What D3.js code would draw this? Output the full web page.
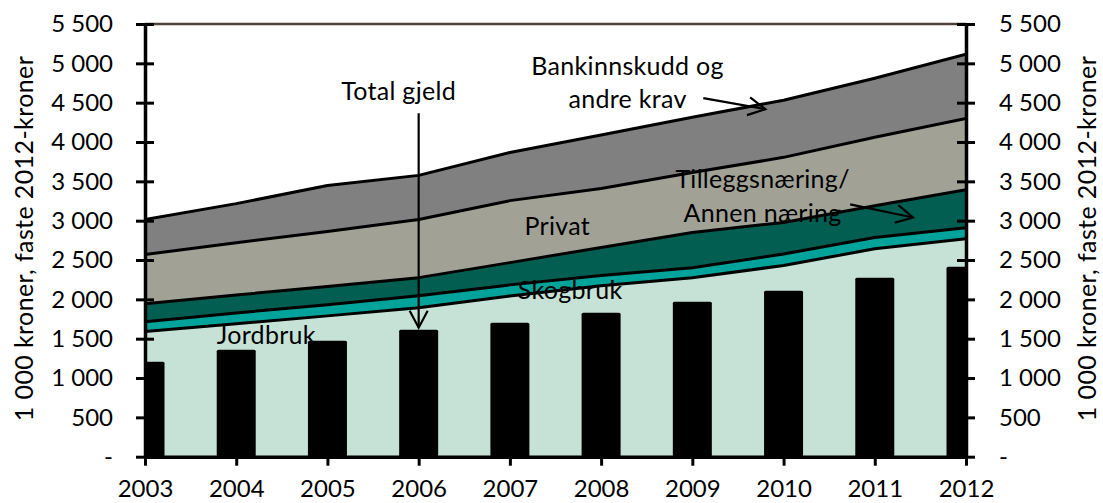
<!DOCTYPE html>
<html>
<head>
<meta charset="utf-8">
<script src="https://cdn.jsdelivr.net/npm/d3@7/dist/d3.min.js"></script>
<style>
    body { margin: 0; background: #fff; }
    svg { display: block; font-family: Lato, "Open Sans", sans-serif; }
</style>
</head>
<body>
<svg id="chart"></svg>
<script>
// Data (1 000 kroner, faste 2012-kroner)
const years = [2003, 2004, 2005, 2006, 2007, 2008, 2009, 2010, 2011, 2012];
const jordbruk   = [1590, 1690, 1790, 1894, 2044, 2173, 2276, 2430, 2643, 2771];
const skogbruk   = [126, 137, 142, 153, 140, 129, 127, 146, 143, 140];
const tillegg    = [229, 229, 230, 229, 283, 357, 447, 402, 405, 484];
const privat     = [625, 664, 700, 739, 788, 749, 762, 827, 869, 905];
const bankinnskudd = [445, 497, 584, 561, 612, 682, 703, 726, 751, 817];
const totalGjeld = [1206, 1359, 1474, 1614, 1703, 1830, 1970, 2110, 2276, 2416];
const yTicks = [0, 500, 1000, 1500, 2000, 2500, 3000, 3500, 4000, 4500, 5000, 5500];

const keys = ["jordbruk", "skogbruk", "tillegg", "privat", "bank"];
const colors = {
    jordbruk: "#c6e2d7",
    skogbruk: "#00a399",
    tillegg: "#015e51",
    privat: "#a1a295",
    bank: "#808080"
};

const width = 1103;
const height = 503;
const margin = {top: 24, right: 137, bottom: 47, left: 145};

const rows = years.map((yr, i) => ({
    year: yr,
    jordbruk: jordbruk[i],
    skogbruk: skogbruk[i],
    tillegg: tillegg[i],
    privat: privat[i],
    bank: bankinnskudd[i]
}));

const x = d3.scaleLinear()
    .domain([2003, 2012])
    .range([margin.left, width - margin.right]);

const y = d3.scaleLinear()
    .domain([0, 5500])
    .range([height - margin.bottom + 0.7, margin.top]);

const svg = d3.select("#chart")
    .attr("width", width)
    .attr("height", height);

svg.append("defs").append("clipPath")
    .attr("id", "plot-clip")
    .append("rect")
    .attr("x", margin.left)
    .attr("y", margin.top)
    .attr("width", x(2012) - x(2003))
    .attr("height", y(0) - margin.top);

const plot = svg.append("g").attr("clip-path", "url(#plot-clip)");

// Stacked areas
const series = d3.stack().keys(keys)(rows);

const area = d3.area()
    .x(d => x(d.data.year))
    .y0(d => y(d[0]))
    .y1(d => y(d[1]));

plot.selectAll("path.layer")
    .data(series)
    .join("path")
    .attr("class", "layer")
    .attr("fill", d => colors[d.key])
    .attr("d", area);

const topLine = d3.line()
    .x(d => x(d.data.year))
    .y(d => y(d[1]));

plot.selectAll("path.edge")
    .data(series)
    .join("path")
    .attr("class", "edge")
    .attr("fill", "none")
    .attr("stroke", "#000")
    .attr("stroke-width", 3)
    .attr("stroke-linejoin", "round")
    .attr("d", topLine);

// Total gjeld bars
const barWidth = 39;
plot.selectAll("rect.bar")
    .data(years)
    .join("rect")
    .attr("class", "bar")
    .attr("x", d => x(d) - barWidth / 2)
    .attr("width", barWidth)
    .attr("y", (d, i) => y(totalGjeld[i]))
    .attr("height", (d, i) => y(0) - y(totalGjeld[i]))
    .attr("rx", 1.5)
    .attr("fill", "#000");

// Top border line
svg.append("line")
    .attr("x1", x(2003)).attr("x2", x(2012))
    .attr("y1", y(5500)).attr("y2", y(5500))
    .attr("stroke", "#4f403a")
    .attr("stroke-width", 2.5);

// Axes
const fmt = d3.formatLocale({decimal: ",", thousands: " ", grouping: [3], currency: ["", ""]}).format(",d");
const tickFmt = d => d === 0 ? "-" : fmt(d);

const leftAxis = svg.append("g")
    .attr("transform", `translate(${x(2003)},0)`)
    .call(d3.axisLeft(y).tickValues(yTicks).tickFormat(tickFmt).tickSize(9).tickSizeOuter(0).tickPadding(23));

const rightAxis = svg.append("g")
    .attr("transform", `translate(${x(2012)},0)`)
    .call(d3.axisRight(y).tickValues(yTicks).tickFormat(tickFmt).tickSize(9).tickSizeOuter(0).tickPadding(24));

leftAxis.selectAll(".tick line").attr("x1", 9);
rightAxis.selectAll(".tick line").attr("x1", -9);

const bottomAxis = svg.append("g")
    .attr("transform", `translate(0,${y(0)})`)
    .call(d3.axisBottom(x).tickValues(years).tickFormat(d3.format("d")).tickSize(9).tickSizeOuter(0).tickPadding(14));

[leftAxis, rightAxis, bottomAxis].forEach(g => {
    g.attr("font-family", "Lato, 'Open Sans', sans-serif")
        .attr("font-size", 24);
    g.selectAll("text").attr("fill", "#000");
    g.selectAll(".tick line").attr("stroke", "#000").attr("stroke-width", 3);
    g.select(".domain").attr("stroke", "#000").attr("stroke-width", 3.5);
});

// Axis titles
const titleText = "1 000 kroner, faste 2012-kroner";
const titleMid = 238.5;
svg.append("text")
    .attr("transform", `translate(33,${titleMid}) rotate(-90)`)
    .attr("text-anchor", "middle")
    .attr("font-size", 25)
    .attr("letter-spacing", 0.4)
    .text(titleText);

svg.append("text")
    .attr("transform", `translate(1096,${titleMid}) rotate(-90)`)
    .attr("text-anchor", "middle")
    .attr("font-size", 25)
    .attr("letter-spacing", 0.4)
    .text(titleText);

// Labels
const labels = [
    {text: "Total gjeld", yr: 2005.78, v: 4532},
    {text: "Bankinnskudd og", yr: 2008.29, v: 4850},
    {text: "andre krav", yr: 2008.29, v: 4429},
    {text: "Tilleggsnæring/", yr: 2009.77, v: 3411},
    {text: "Annen næring", yr: 2009.77, v: 2978},
    {text: "Privat", yr: 2007.52, v: 2812},
    {text: "Skogbruk", yr: 2007.66, v: 2009},
    {text: "Jordbruk", yr: 2004.33, v: 1436}
];

svg.append("g")
    .selectAll("text")
    .data(labels)
    .join("text")
    .attr("x", d => x(d.yr))
    .attr("y", d => y(d.v))
    .attr("text-anchor", "middle")
    .attr("font-size", 25)
    .attr("letter-spacing", 0.3)
    .attr("fill", "#000")
    .text(d => d.text);

// Arrows
const arrows = [
    {from: [2006, 4366], to: [2006, 1640]},
    {from: [2009.12, 4557], to: [2009.80, 4417]},
    {from: [2010.73, 3207], to: [2011.42, 3041]}
];

const arrowG = svg.append("g")
    .attr("fill", "none")
    .attr("stroke", "#000")
    .attr("stroke-width", 2.2)
    .attr("stroke-linejoin", "miter");

arrows.forEach(a => {
    const x1 = x(a.from[0]), y1 = y(a.from[1]);
    const x2 = x(a.to[0]), y2 = y(a.to[1]);
    const len = Math.hypot(x2 - x1, y2 - y1);
    const ux = (x2 - x1) / len, uy = (y2 - y1) / len;
    const back = 17, half = 9;
    const bx = x2 - ux * back, by = y2 - uy * back;
    arrowG.append("line")
        .attr("x1", x1).attr("y1", y1)
        .attr("x2", x2).attr("y2", y2);
    arrowG.append("path")
        .attr("d", `M${bx - uy * half},${by + ux * half}L${x2},${y2}L${bx + uy * half},${by - ux * half}`);
});
</script>
</body>
</html>
